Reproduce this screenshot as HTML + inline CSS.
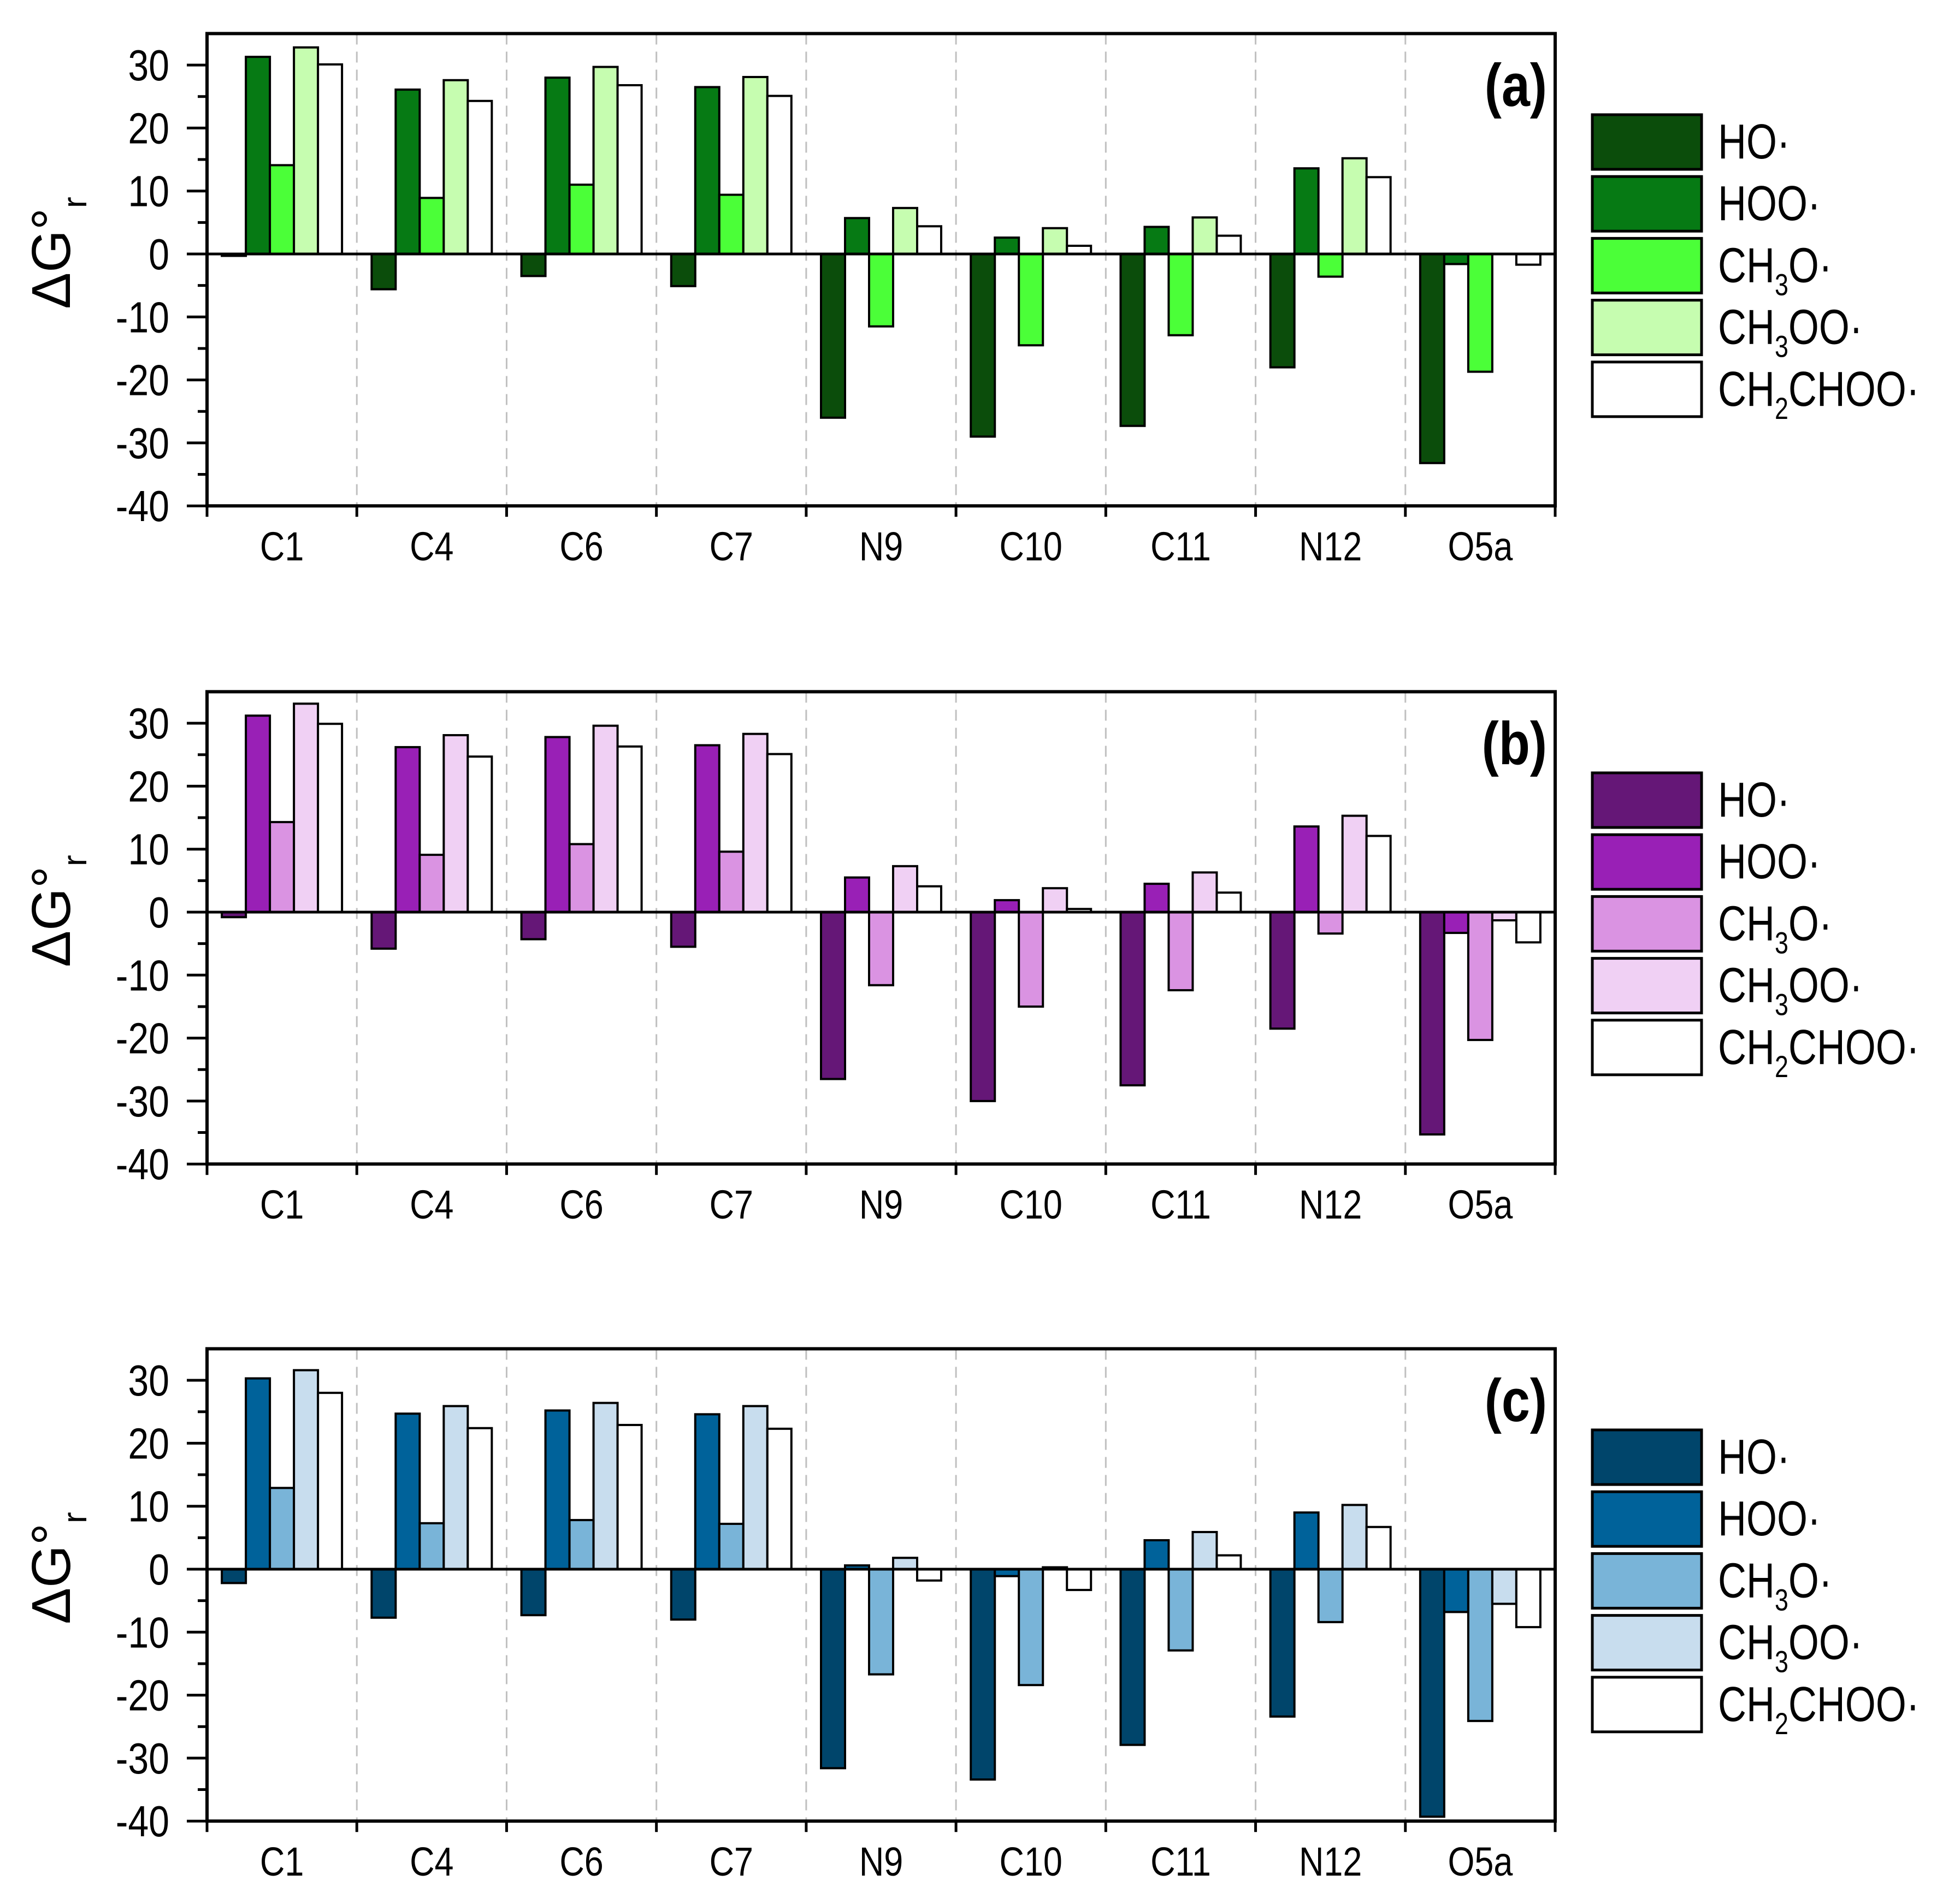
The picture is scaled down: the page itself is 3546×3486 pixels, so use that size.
<!DOCTYPE html>
<html><head><meta charset="utf-8"><style>
html,body{margin:0;padding:0;background:#fff;}
svg{display:block;font-family:"Liberation Sans",sans-serif;}
</style></head>
<body>
<svg id="chart" width="3546" height="3486" viewBox="0 0 3546 3486" xmlns="http://www.w3.org/2000/svg"></svg>
<script>
const categories = ["C1","C4","C6","C7","N9","C10","C11","N12","O5a"];
const seriesNames = ["HO·","HOO·","CH3O·","CH3OO·","CH2CHOO·"];
const yTicks = [30,20,10,0,-10,-20,-30,-40];
const panelLabels = ["(a)","(b)","(c)"];
// panel (a) values per series [category order]
const a_HO = [-0.3,-5.6,-3.5,-5.1,-26,-29,-27.3,-18,-33.2];
const a_HOO = [31.3,26.1,28.0,26.5,5.7,2.6,4.3,13.6,-1.6];
const a_CH3O = [14.1,8.9,11.0,9.4,-11.5,-14.5,-12.9,-3.6,-18.7];
const a_CH3OO = [32.8,27.6,29.7,28.1,7.3,4.1,5.8,15.2,0];
const a_CH2CHOO = [30.1,24.3,26.8,25.1,4.4,1.3,2.9,12.2,-1.7];
// panel (b)
const b_HO = [-0.8,-5.8,-4.3,-5.5,-26.5,-30,-27.5,-18.5,-35.3];
const b_HOO = [31.2,26.2,27.8,26.5,5.5,1.9,4.5,13.6,-3.3];
const b_CH3O = [14.3,9.1,10.8,9.6,-11.6,-15,-12.4,-3.4,-20.3];
const b_CH3OO = [33.1,28.1,29.6,28.3,7.3,3.8,6.3,15.3,-1.3];
const b_CH2CHOO = [29.9,24.7,26.3,25.1,4.1,0.5,3.1,12.1,-4.8];
// panel (c)
const c_HO = [-2.2,-7.7,-7.3,-8.0,-31.6,-33.4,-27.9,-23.4,-39.3];
const c_HOO = [30.3,24.7,25.2,24.6,0.6,-1.1,4.6,9.0,-6.8];
const c_CH3O = [12.9,7.3,7.8,7.2,-16.7,-18.4,-12.9,-8.4,-24.1];
const c_CH3OO = [31.6,25.9,26.4,25.9,1.8,0.3,5.9,10.2,-5.5];
const c_CH2CHOO = [28.0,22.4,22.9,22.3,-1.8,-3.3,2.2,6.7,-9.2];

const panels = [
  {data:[a_HO,a_HOO,a_CH3O,a_CH3OO,a_CH2CHOO], colors:["#0b4d0b","#067a14","#4bff38","#c6fdb0","#ffffff"], off:0},
  {data:[b_HO,b_HOO,b_CH3O,b_CH3OO,b_CH2CHOO], colors:["#651777","#9920b6","#da93e2","#f0d0f4","#ffffff"], off:1205},
  {data:[c_HO,c_HOO,c_CH3O,c_CH3OO,c_CH2CHOO], colors:["#00456b","#00629a","#79b4d8","#c8ddee","#ffffff"], off:2408}
];
const NS="http://www.w3.org/2000/svg";
const svg=document.getElementById('chart');
function mk(tag,attrs,parent){const e=document.createElementNS(NS,tag);for(const k in attrs)e.setAttribute(k,attrs[k]);(parent||svg).appendChild(e);return e;}
const X0=379,X1=2847,catW=(X1-X0)/categories.length,barW=44;
const YMAX=35,YMIN=-40,PX10=115.3;
panels.forEach((p,pi)=>{
  const zero=465+p.off;
  const y=v=>zero-v*PX10/10;
  const x=i=>X0+i*catW;
  const g=mk('g',{});
  
  
  for(let i=1;i<categories.length;i++){
    const l=mk('line',{x1:x(i),x2:x(i),y1:y(YMAX),y2:y(YMIN),stroke:'#c0c0c0','stroke-width':3,'stroke-dasharray':'20 13'},g);
    
    
  }
  p.data.forEach((vals,si)=>{
    vals.forEach((v,ci)=>{
      const bx=x(ci)+(catW-5*barW)/2+si*barW;
      const top=Math.min(y(v),zero),h=Math.abs(y(v)-zero);
      const r=mk('rect',{x:bx,y:top,width:barW,height:Math.max(h,0.01),fill:p.colors[si],stroke:'#000','stroke-width':4},g);
      
      
    });
  });
  const zl=mk('line',{x1:X0,x2:X1,y1:zero,y2:zero,stroke:'#000','stroke-width':5},g);
  
  
  const fr=mk('rect',{x:X0,y:y(YMAX),width:X1-X0,height:y(YMIN)-y(YMAX),fill:'none',stroke:'#000','stroke-width':6},g);
  
  
  for(let v=-40;v<=30;v+=5){
    const major=v%10===0;
    mk('line',{x1:X0-(major?37:17),x2:X0,y1:y(v),y2:y(v),stroke:'#000','stroke-width':5},g);
  }
  yTicks.forEach(v=>{
    const t=mk('text',{transform:`translate(310,${y(v)+28}) scale(0.85,1)`,'text-anchor':'end','font-size':80},g);
    t.textContent=v;
    
    
  });
  for(let i=0;i<=categories.length;i++) mk('line',{x1:x(i),x2:x(i),y1:y(YMIN),y2:y(YMIN)+20,stroke:'#000','stroke-width':5},g);
  categories.forEach((c,i)=>{
    const t=mk('text',{transform:`translate(${x(i)+catW/2},${y(YMIN)+100}) scale(0.85,1)`,'text-anchor':'middle','font-size':74},g);
    t.textContent=c;
    
    
  });
  const yt=mk('text',{transform:`translate(128,${zero-2}) rotate(-90)`,'text-anchor':'middle','font-size':100},g);
  yt.innerHTML='ΔG°<tspan font-size="62" dy="30">r</tspan>';
  
  
  const pl=mk('text',{transform:`translate(2832,${zero-271}) scale(0.85,1)`,'text-anchor':'end','font-size':110,'font-weight':'bold'},g);
  pl.textContent=panelLabels[pi];
  
  
  const labels=['HO·','HOO·','CH<tspan font-size="56" dy="24">3</tspan><tspan dy="-24">O·</tspan>','CH<tspan font-size="56" dy="24">3</tspan><tspan dy="-24">OO·</tspan>','CH<tspan font-size="56" dy="24">2</tspan><tspan dy="-24">CHOO·</tspan>'];
  labels.forEach((lab,si)=>{
    const ly=210+p.off+si*113.2;
    const lr=mk('rect',{x:2915,y:ly,width:200,height:100,fill:p.colors[si],stroke:'#000','stroke-width':5},g);
    
    
    const lt=mk('text',{transform:`translate(3145,${ly+80}) scale(0.8,1)`,'font-size':90},g);
    lt.innerHTML=lab;
    
    
  });
});
</script>
</body></html>
